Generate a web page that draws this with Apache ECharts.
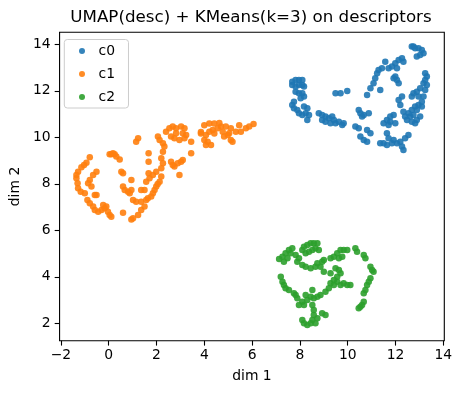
<!DOCTYPE html>
<html><head><meta charset="utf-8">
<script src="https://cdn.jsdelivr.net/npm/echarts@6/dist/echarts.min.js"></script>
<style>html,body{margin:0;padding:0;background:#fff}#c{width:462px;height:393px}</style>
</head><body><div id="c"></div>
<script>
const titleText = 'UMAP(desc) + KMeans(k=3) on descriptors';
const xName = 'dim 1';
const yName = 'dim 2';
const seriesNames = ['c0', 'c1', 'c2'];
const colors = ['#1f77b4', '#ff7f0e', '#2ca02c'];
const xTicks = [-2, 0, 2, 4, 6, 8, 10, 12, 14];
const yTicks = [2, 4, 6, 8, 10, 12, 14];

const c0 = [
[7.68,12.39],[7.82,12.46],[7.96,12.46],[8.10,12.46],[7.68,12.25],[7.82,12.18],[7.96,12.25],[8.10,12.25],[8.17,12.18],[7.82,11.96],[7.96,11.89],[8.10,11.89],[8.17,11.75],[8.03,11.68],[7.75,11.53],[7.68,11.39],[7.75,11.25],[7.89,11.17],[7.96,11.03],[8.10,10.96],[8.24,11.03],[8.38,10.96],[8.31,11.25],[8.17,11.32],[8.31,10.74],
[8.79,11.03],[8.93,10.96],[9.07,10.89],[8.93,10.74],[9.07,10.67],[9.21,10.82],[9.35,10.89],[9.42,10.74],[9.28,10.60],[9.49,10.60],[9.63,10.67],[9.77,10.53],[9.83,10.60],[9.49,11.89],[9.70,11.89],[9.98,11.99],
[10.46,11.17],[10.53,11.03],[10.67,10.96],[10.88,11.03],[10.60,10.89],[10.32,10.46],[10.46,10.39],[10.81,10.31],[10.95,10.17],[10.53,10.03],[10.67,9.88],[10.81,9.81],
[10.81,11.82],[10.95,12.11],[11.08,12.32],[11.15,12.54],[11.23,12.75],[11.29,12.89],[11.43,12.97],[11.57,13.25],[11.71,12.97],[11.85,13.04],[11.99,13.18],[12.13,13.32],[12.27,13.40],[12.33,13.25],[12.06,12.97],[11.36,12.03],[11.99,12.61],[12.06,12.46],[12.13,12.32],[11.92,12.54],
[12.68,13.90],[12.82,13.83],[12.96,13.83],[13.10,13.75],[13.17,13.61],[13.03,13.54],[12.89,13.47],[12.75,13.90],
[13.24,12.75],[13.31,12.61],[13.24,12.46],[13.17,12.32],[13.31,12.25],[13.24,12.03],[13.03,12.11],[12.89,11.96],[12.75,11.89],[12.68,11.75],[12.96,11.75],[13.17,11.75],[13.10,11.53],[12.96,11.39],[12.82,11.32],[12.68,11.17],[13.10,11.32],[12.89,11.17],[12.75,10.96],[12.61,10.89],[12.54,11.03],[12.40,10.89],[12.89,10.74],[13.03,10.89],[12.82,10.60],[12.68,10.67],[12.48,10.74],[12.27,11.75],[12.20,11.39],[12.13,11.60],[12.33,11.10],[11.92,10.96],[11.78,10.89],[11.64,10.74],[11.50,10.60],[11.71,10.53],[11.78,10.67],[11.99,10.60],
[11.64,10.17],[11.71,9.96],[11.92,9.88],[12.06,9.74],[12.27,9.60],[12.33,9.45],[12.20,9.81],[12.40,9.96],[12.54,10.10],[11.36,9.74],[11.50,9.74],[11.64,9.67],[11.85,9.74]
];

const c1 = [
[-0.79,9.14],[-0.93,8.91],[-1.03,8.81],[-1.14,8.71],[-1.28,8.52],[-1.35,8.38],[-1.35,8.24],[-1.30,8.02],[-1.28,7.81],[-1.17,7.66],[-1.00,7.59],[-0.89,7.30],[-0.79,7.16],[-0.65,7.02],[-0.58,6.87],[-0.44,6.80],[-0.30,6.87],[-0.17,6.95],[-0.03,6.80],[0.04,6.66],[0.11,6.58],[-0.23,7.09],[-0.10,7.02],
[-0.51,8.52],[-0.65,8.38],[-0.79,8.16],[-0.86,8.02],[-0.72,7.88],[-0.58,7.52],[-0.51,7.52],
[0.11,9.27],[0.25,9.27],[0.46,9.05],[0.53,8.52],[0.60,8.45],[0.95,8.16],[0.60,7.88],[0.67,7.73],[0.81,7.66],[0.95,7.73],[0.88,7.59],[1.36,7.73],[1.50,7.73],[1.15,7.23],[1.36,7.23],[1.57,7.30],[1.64,7.38],[1.78,7.45],[1.85,7.59],[1.92,7.73],[1.99,7.88],[1.50,7.02],[1.36,6.87],[1.23,6.66],[1.02,6.52],[0.95,6.47],[0.60,6.76],
[1.67,9.31],[1.67,8.95],[1.67,8.45],[1.15,9.81],[1.23,9.96],[2.06,10.03],[2.13,9.88],[2.27,9.74],[2.33,9.60],[2.27,9.38],[2.20,9.10],[2.27,8.88],[2.20,8.67],
[2.40,10.24],[2.54,10.39],[2.68,10.46],[2.82,10.39],[3.03,10.46],[3.17,10.39],[3.10,10.17],[3.24,10.10],[3.17,9.96],[2.96,9.88],[2.75,9.96],[2.61,10.03],[2.82,10.17],[3.45,9.81],[3.45,9.31],
[2.61,8.95],[2.68,8.81],[2.75,8.74],[2.89,8.88],[3.03,8.95],[3.10,9.02],[2.96,8.38],[2.20,8.31],[2.13,8.09],[2.05,7.99],
[3.86,10.23],[4.00,10.52],[4.21,10.59],[4.42,10.59],[4.63,10.62],[4.70,10.46],[4.56,10.39],[4.35,10.31],[4.21,10.24],[4.07,10.10],[4.00,9.88],[4.14,9.81],[4.28,9.67],[4.07,9.67],[3.86,10.16],
[4.90,10.46],[5.11,10.39],[5.04,10.17],[4.98,10.10],[5.11,9.88],[5.18,9.81],[5.32,10.24],[5.46,10.52],[5.53,10.24],[5.74,10.39],[5.88,10.46],[6.06,10.57],[4.77,10.24],[4.83,10.03],[4.42,10.16],
[0.18,9.31],[0.04,9.27],[0.32,9.17],[1.57,8.09],[1.71,8.24],[1.85,8.38],[1.99,8.52],[1.02,7.30]
];

const c2 = [
[7.13,4.77],[7.27,4.86],[7.40,5.01],[7.54,5.15],[7.68,5.23],[7.61,5.01],[7.48,4.80],[7.33,4.65],[7.82,4.94],[7.96,4.80],[8.10,5.15],[8.17,5.29],[8.31,5.37],[8.45,5.44],[8.58,5.44],[8.73,5.44],[8.24,5.01],[8.38,5.08],[8.52,5.15],[8.65,5.23],[8.79,5.15],[7.89,4.65],[8.10,4.51],[8.24,4.43],[8.45,4.37],[8.65,4.43],[8.73,4.58],[8.93,4.65],[9.00,4.72],[8.86,4.43],
[9.28,4.80],[9.42,4.86],[9.56,5.01],[9.70,5.15],[9.83,5.15],[9.98,5.15],[9.77,4.86],[9.63,4.80],[10.39,5.08],[10.67,4.94],[10.74,4.80],[9.00,4.22],[10.32,5.23],
[7.20,4.00],[7.27,3.79],[7.33,3.65],[7.40,3.51],[7.54,3.43],
[9.49,4.37],[9.63,4.29],[9.70,4.15],[9.56,4.00],[9.42,3.86],[9.28,3.72],[9.42,3.65],[9.56,3.79],[9.70,3.65],[9.83,3.72],[9.98,3.65],[10.11,3.65],[9.21,3.51],[9.07,3.36],[8.86,3.22],[8.73,3.14],[8.58,3.08],[8.45,3.14],[8.52,3.43],[8.24,3.22],[8.31,3.00],[8.10,2.93],[8.17,2.79],[7.96,2.79],[7.89,3.08],[7.82,3.22],[7.75,3.29],[9.28,4.15],
[10.95,4.43],[11.02,4.29],[11.08,4.22],[10.95,3.94],[10.88,3.79],[10.81,3.65],[10.74,3.43],[10.67,3.29],[10.60,2.79],[10.53,2.71],[10.46,2.65],[10.67,2.93],
[8.52,2.79],[8.58,2.57],[8.58,2.36],[8.52,2.14],[8.45,2.00],[8.31,1.93],[8.17,2.00],[8.10,2.14],[8.65,2.00],[8.73,2.22],[9.07,2.36],[8.93,2.43]
];

const seriesData = [c0, c1, c2];
const font = 'DejaVu Sans';
const fmt = v => String(v).replace('-', '\u2212');

const chart = echarts.init(document.getElementById('c'), null, { renderer: 'canvas' });
chart.setOption({
  animation: false,
  textStyle: { fontFamily: font },
  graphic: [{
    type: 'text', x: 251, y: 17.5,
    style: { text: titleText, fontSize: 16.7, fontFamily: font, fill: '#000', textAlign: 'center', textVerticalAlign: 'middle' }
  }],
  grid: { left: 57.7, right: 17.7, top: 32.3, bottom: 52.3, show: true, borderColor: '#000', borderWidth: 1.1, backgroundColor: 'transparent' },
  legend: {
    orient: 'vertical', left: 64.3, top: 39.5, data: seriesNames, icon: 'circle',
    itemWidth: 23, itemHeight: 6, itemGap: 7,
    padding: [3.5, 13.5, 3, 14.7],
    borderColor: '#cccccc', borderWidth: 1, borderRadius: 3, backgroundColor: 'rgba(255,255,255,0.8)',
    textStyle: { fontSize: 13.9, color: '#000', lineHeight: 16, fontFamily: font }
  },
  xAxis: {
    type: 'value', min: -2.054, max: 14.04,
    name: xName, nameLocation: 'middle', nameGap: 29,
    nameTextStyle: { fontSize: 13.9, color: '#000', fontFamily: font },
    axisLine: { show: false, onZero: false }, splitLine: { show: false },
    axisTick: { show: true, length: 4.9, inside: false, lineStyle: { color: '#000', width: 1.1 }, customValues: xTicks },
    axisLabel: { customValues: xTicks, formatter: fmt, fontSize: 13.9, color: '#000', margin: 8, fontFamily: font }
  },
  yAxis: {
    type: 'value', min: 1.252, max: 14.516,
    name: yName, nameLocation: 'middle', nameGap: 36, nameRotate: 90,
    nameTextStyle: { fontSize: 13.9, color: '#000', fontFamily: font },
    axisLine: { show: false, onZero: false }, splitLine: { show: false },
    axisTick: { show: true, length: 4.9, inside: false, lineStyle: { color: '#000', width: 1.1 }, customValues: yTicks },
    axisLabel: { customValues: yTicks, formatter: fmt, fontSize: 13.9, color: '#000', margin: 9, fontFamily: font }
  },
  series: seriesNames.map((n, i) => ({
    name: n, type: 'scatter', data: seriesData[i], symbol: 'circle', symbolSize: 6.5,
    itemStyle: { color: colors[i], opacity: 0.9 }
  }))
});
</script></body></html>
